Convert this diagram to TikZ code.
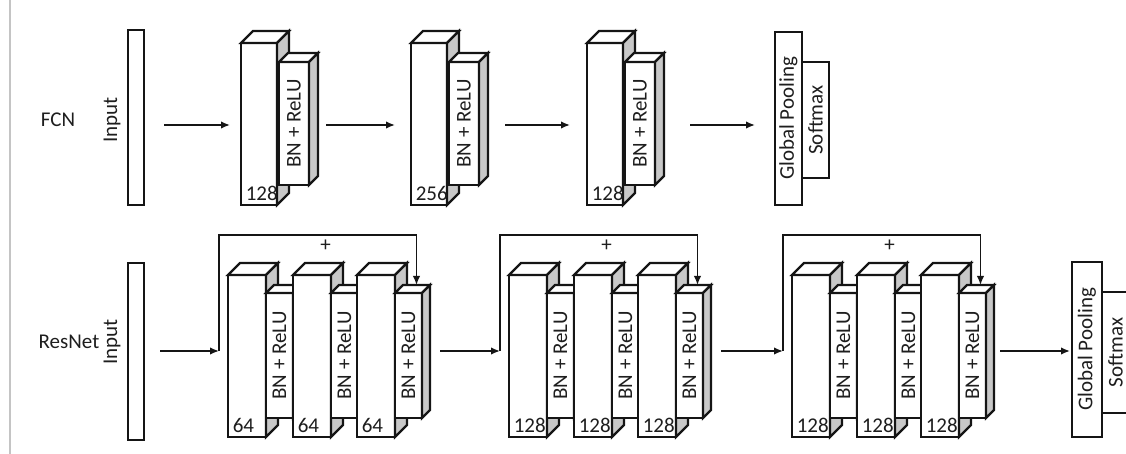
\documentclass[tikz,border=0pt]{standalone}
\usepackage{fontspec}
\setmainfont{Carlito}
\usepackage{xcolor}
\usepackage{tikz}
\definecolor{netInk}{HTML}{151515}
\definecolor{netText}{HTML}{1E1E1E}
\definecolor{netSide}{HTML}{C8C8C8}
\definecolor{netEdge}{HTML}{C4C4C4}
\usetikzlibrary{arrows.meta,positioning,calc}

% front face as a node, top and side faces drawn from its anchors
% #1 name, #2 x, #3 y (top), #4 width, #5 height, #6 depth
\newcommand{\slab}[6]{%
  \node[layer, minimum width={#4*0.5pt}, minimum height={#5*0.5pt}] (#1) at (#2,#3) {};
  \draw[facetop] (#1.north west) -- ++(#6,-#6) -- ++(#4,0) -- (#1.north east) -- cycle;
  \draw[faceside] (#1.north east) -- ++(#6,-#6) -- ++(0,#5) -- (#1.south east) -- cycle;
  \coordinate (#1-back) at ($(#1.north)+(#6,-#6)$);
}

\begin{document}
\begin{tikzpicture}[
  x=0.5pt, y=-0.5pt,
  font=\fontsize{10.5}{12}\selectfont,
  layer/.style={draw=netInk, fill=white, line width=1.1pt, anchor=north west,
    inner sep=0pt, outer sep=0pt},
  facetop/.style={draw=netInk, fill=white, line width=1.1pt},
  faceside/.style={draw=netInk, fill=netSide, line width=1.1pt},
  lbl/.style={text=netText, inner sep=1pt},
  rot/.style={lbl, rotate=90},
  num/.style={lbl, anchor=south west, inner sep=2.2pt},
  flow/.style={-{Latex[length=4.5pt,width=3.8pt]}, line width=0.85pt, netInk},
  skipline/.style={flow}
]
\useasboundingbox (0,0) rectangle (1126,454);
\draw[netEdge, line width=0.6pt] (10,0) -- (10,454);

% FCN
\node[lbl] (fcn) at (58,120) {FCN};
\node[layer, minimum width=8pt, minimum height=87.5pt] (inF) at (128,30) {};
\node[rot] (inF-t) at (112,120) {Input};
\coordinate (fy) at (0,125);

\foreach \i/\x/\n in {1/241/128, 2/411/256, 3/587/128} {
  \slab{f\i-big}{\x}{43}{36}{162}{12}
  \node[num] (f\i-n) at (f\i-big.south west) {\n};
  \slab{f\i-bn}{\x+38}{62}{30}{123}{9}
  \node[rot] (f\i-t) at (f\i-bn) {BN + ReLU};
}

\node[layer, minimum width=13.5pt, minimum height=58pt] (fsm) at (802,62) {};
\node[layer, minimum width=13.5pt, minimum height=86.5pt] (fgp) at (775,32) {};
\node[rot] (fgp-t) at (fgp) {Global Pooling};
\node[rot] (fsm-t) at (fsm) {Softmax};

\draw[flow, shorten <=10pt, shorten >=5.5pt] (inF.east |- fy) -- (f1-big.west |- fy);
\draw[flow, shorten <=8.5pt, shorten >=8pt] (f1-bn.east |- fy) -- (f2-big.west |- fy);
\draw[flow, shorten <=13pt, shorten >=8.5pt] (f2-bn.east |- fy) -- (f3-big.west |- fy);
\draw[flow, shorten <=17.5pt, shorten >=10pt] (f3-bn.east |- fy) -- (fgp.west |- fy);

% ResNet
\node[lbl] (resnet) at (69,342) {ResNet};
\node[layer, minimum width=8pt, minimum height=88.5pt] (inR) at (128,263) {};
\node[rot] (inR-t) at (112,342) {Input};

\foreach \b/\x/\n in {1/228/64, 2/509/128, 3/792/128} {
  \foreach \k/\dx in {1/0, 2/65, 3/129} {
    \slab{r\b-big\k}{\x+\dx}{275}{38}{162}{12}
    \node[num] (r\b-n\k) at (r\b-big\k.south west) {\n};
    \slab{r\b-bn\k}{\x+\dx+38}{293}{27}{125}{8}
    \node[rot] (r\b-t\k) at (r\b-bn\k) {BN + ReLU};
  }
  \coordinate (r\b-in) at (\x-9,351);
  \draw[skipline] (r\b-in) -- ++(0,-116) -| node[pos=0.27, below=1pt, lbl] (r\b-plus) {+} (r\b-bn3-back);
}

\node[layer, minimum width=13.5pt, minimum height=60.5pt] (rsm) at (1102,292) {};
\node[layer, minimum width=15pt, minimum height=87.5pt] (rgp) at (1072,262) {};
\node[rot] (rgp-t) at (rgp) {Global Pooling};
\node[rot] (rsm-t) at (rsm) {Softmax};

\draw[flow, shorten <=8pt] (inR.east |- r1-in) -- (r1-in);
\draw[flow, shorten <=9pt] (r1-bn3.east |- r2-in) -- (r2-in);
\draw[flow, shorten <=9pt] (r2-bn3.east |- r3-in) -- (r3-in);
\draw[flow, shorten <=7pt, shorten >=1pt] (r3-bn3.east |- r3-in) -- (rgp.west |- r3-in);

\end{tikzpicture}
\end{document}
